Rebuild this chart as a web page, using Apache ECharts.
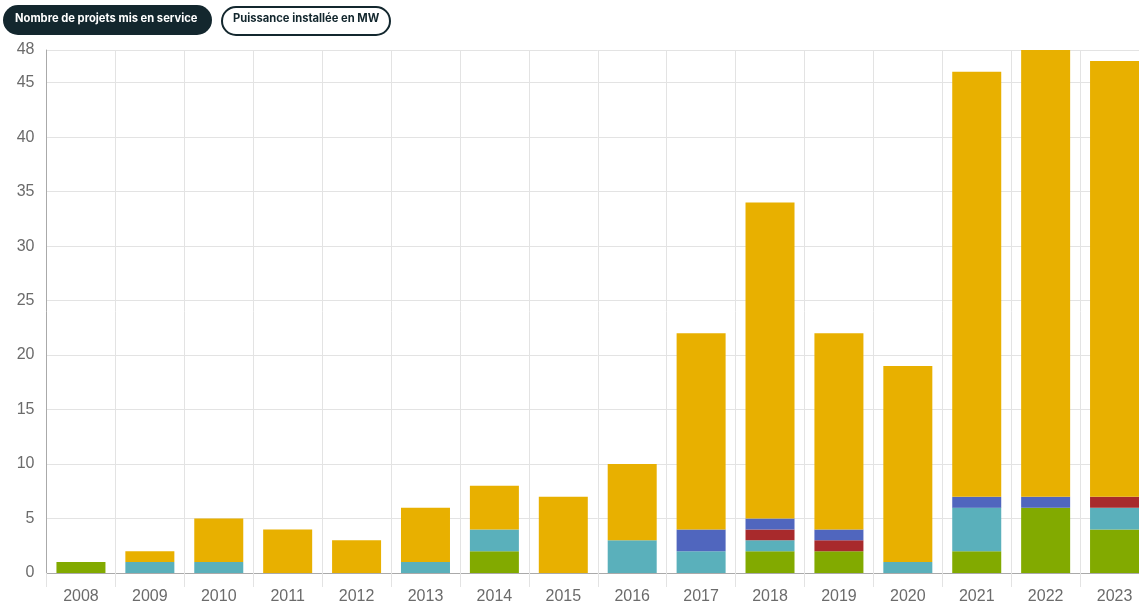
<!DOCTYPE html>
<html><head><meta charset="utf-8">
<script src="https://cdn.jsdelivr.net/npm/echarts@6/dist/echarts.min.js"></script>
<style>html,body{margin:0;padding:0;background:#fff;overflow:hidden;width:1139px;height:605px}#c{width:1149px;height:605px}</style>
</head><body><div id="c"></div>
<script>
const years = ['2008','2009','2010','2011','2012','2013','2014','2015','2016','2017','2018','2019','2020','2021','2022','2023'];
const serieA = [1,0,0,0,0,0,2,0,0,0,2,2,0,2,6,4];      // vert
const serieB = [0,1,1,0,0,1,2,0,3,2,1,0,1,4,0,2];      // bleu-vert
const serieC = [0,0,0,0,0,0,0,0,0,0,1,1,0,0,0,1];      // rouge
const serieD = [0,0,0,0,0,0,0,0,0,2,1,1,0,1,1,0];      // bleu
const serieE = [0,1,4,4,3,5,4,7,7,18,29,18,18,39,41,40]; // jaune
const buttons = ['Nombre de projets mis en service','Puissance installée en MW'];

const colors = ['#82aa00','#5ab0bb','#a82a2c','#5066be','#e8b000'];
const names = ['Série 1','Série 2','Série 3','Série 4','Série 5'];
const datas = [serieA,serieB,serieC,serieD,serieE];

const chart = echarts.init(document.getElementById('c'));
chart.setOption({
  animation:false,
  grid:{left:46.5,top:50,right:0,bottom:31.7},
  xAxis:{type:'category',data:years,
    axisLine:{lineStyle:{color:'#aaaaaa',width:1}},
    axisTick:{show:true,length:14,lineStyle:{color:'#e3e3e3'}},
    axisLabel:{color:'#6b6b6b',fontSize:16,margin:16,fontFamily:'Liberation Sans'},
    splitLine:{show:true,lineStyle:{color:'#e3e3e3'}}},
  yAxis:{type:'value',min:0,max:48,interval:5,
    axisLine:{show:true,lineStyle:{color:'#aaaaaa'}},
    axisTick:{show:false},
    axisLabel:{color:'#6b6b6b',fontSize:16,margin:12,fontFamily:'Liberation Sans'},
    splitLine:{lineStyle:{color:'#e3e3e3'}}},
  series: datas.map((d,i)=>({type:'bar',name:names[i],stack:'t',data:d,barWidth:49,
    itemStyle:{color:colors[i]}})),
  graphic:[
    {type:'rect',left:3,top:5,shape:{width:209,height:30,r:15},style:{fill:'#13272e'}},
    {type:'text',left:15,top:13,style:{text:buttons[0],fill:'#fff',font:'bold 11.2px Inter'}},
    {type:'rect',left:221,top:6,shape:{width:168,height:28,r:14},style:{fill:'#fff',stroke:'#13272e',lineWidth:2}},
    {type:'text',left:233,top:13,style:{text:buttons[1],fill:'#13272e',font:'bold 11.2px Inter'}}
  ]
});
</script></body></html>
